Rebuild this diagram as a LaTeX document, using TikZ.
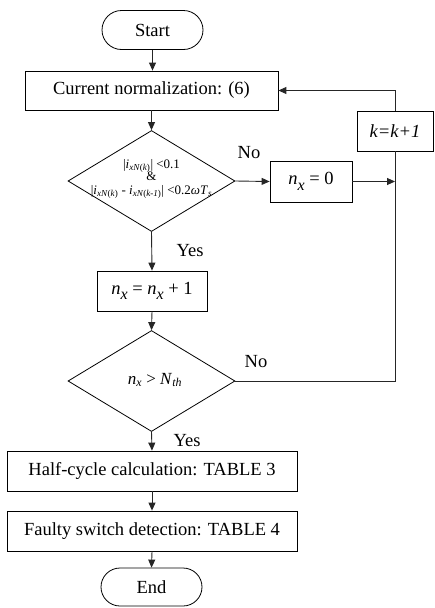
\documentclass[tikz,border=0pt]{standalone}
\usepackage{fontspec}
\setmainfont{Liberation Serif}
\usetikzlibrary{shapes.geometric,shapes.misc,arrows.meta}
\newcommand\ixn[1]{\textit{i}\textsubscript{\textit{xN}(\textit{#1})}}
\newcommand\subx[1]{\raisebox{-0.3em}{\fontsize{16}{16}\selectfont\textit{#1}}}
\begin{document}
\begin{tikzpicture}[x=1pt,y=-1pt,
  every node/.style={font=\fontsize{18.5}{22}\selectfont, inner sep=0pt},
  box/.style={draw=black, line width=0.8pt, rectangle, minimum height=40pt},
  term/.style={draw=black, line width=0.8pt, rounded rectangle, minimum height=39pt, minimum width=101pt},
  dia/.style={draw=black, line width=0.8pt, diamond, minimum width=167pt, minimum height=101pt},
  conn/.style={draw=black!85, line width=0.9pt},
  arr/.style={conn, -{Triangle[length=8pt,width=7pt]}},
  lbl/.style={font=\fontsize{18.5}{22}\selectfont}
]
\useasboundingbox (0,0) rectangle (434,608);
\node[term] (start) at (152.5,30) {Start};
\node[box, minimum width=253pt, minimum height=39pt] (norm) at (151.5,90.5) {Current normalization: (6)};
\node[dia] (d1) at (151.5,181) {};
\node[align=center, font=\fontsize{13}{15}\selectfont] (d1t) at (151.5,179) {|\ixn{k}| <0.1\\[-3pt] \&\\[-1pt] |\ixn{k} - \ixn{k-1}| <0.2\textit{ωT}\textsubscript{\textit{s}}};
\node[box, minimum width=82pt, minimum height=41pt] (nx0) at (311,181.5) {\textit{n}\subx{x} = 0};
\node[box, minimum width=76pt] (kbox) at (395,131) {\textit{k=k+1}};
\node[box, minimum width=110pt] (inc) at (152,291) {\textit{n}\subx{x} = \textit{n}\subx{x} + 1};
\node[dia] (d2) at (151.5,381) {};
\node[font=\fontsize{17}{20}\selectfont] (d2t) at (155,380) {\textit{n}\textsubscript{\textit{x}} > \textit{N}\textsubscript{\textit{th}}};
\node[box, minimum width=290pt] (half) at (152,471) {Half-cycle calculation: TABLE 3};
\node[box, minimum width=290pt] (faulty) at (152,531) {Faulty switch detection: TABLE 4};
\node[term, minimum height=38pt] (end) at (151.5,587) {End};
\node[lbl] (no1) at (249,153) {No};
\node[lbl] (no2) at (256,362) {No};
\node[lbl] (yes1) at (190,251) {Yes};
\node[lbl] (yes2) at (187,441) {Yes};
\coordinate (loopcorner) at (kbox.north |- norm.east);
\draw[arr] (start.south) -- (start.south |- norm.north);
\draw[arr] (norm.south) -- (d1.north);
\draw[arr] (d1.east) -- (nx0.west);
\draw[arr] (nx0.east) -- (nx0.east -| kbox.south);
\draw[arr] (d1.south) -- (inc.north);
\draw[arr] (inc.south) -- (d2.north);
\draw[arr] (d2.south) -- (half.north);
\draw[arr] (half.south) -- (faulty.north);
\draw[arr] (faulty.south) -- (end.north);
\draw[conn] (d2.east) -- (d2.east -| kbox.south) -- (kbox.south);
\draw[arr] (kbox.north) -- (loopcorner) -- (norm.east);
\end{tikzpicture}
\end{document}
